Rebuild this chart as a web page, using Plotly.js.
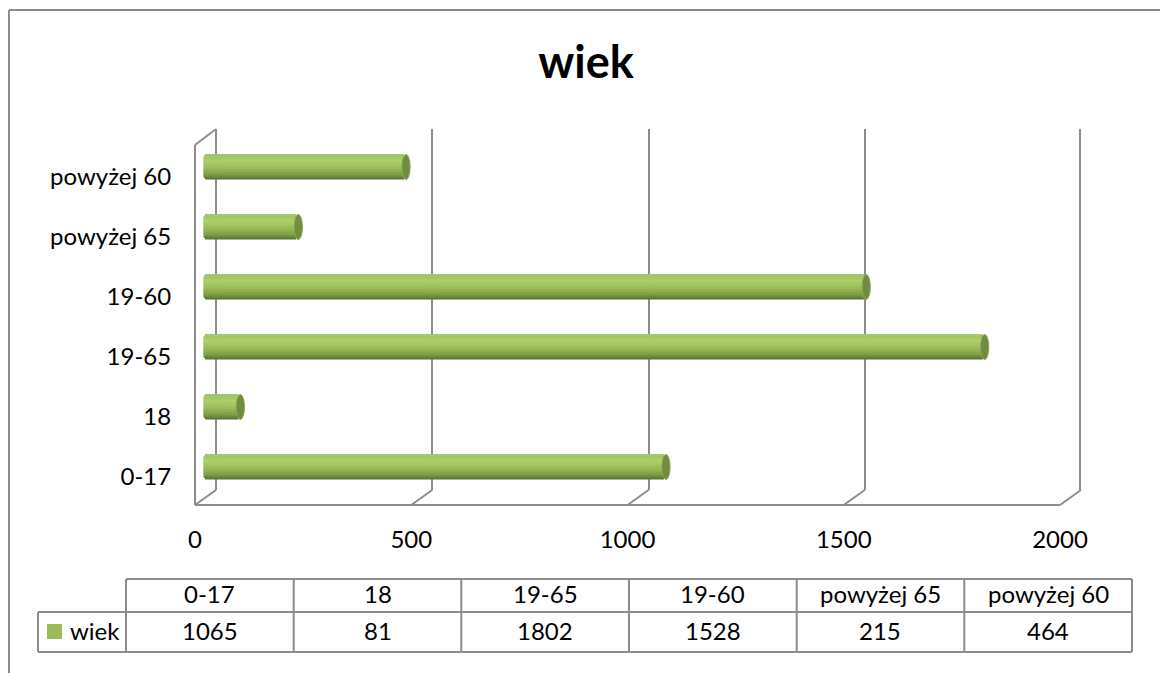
<!DOCTYPE html>
<html><head><meta charset="utf-8">
<script src="https://cdn.plot.ly/plotly-3.0.1.min.js"></script>
<style>html,body{margin:0;padding:0;background:#fff}</style></head>
<body><div id="chart" style="width:1160px;height:673px"></div>
<script>
const categories = ["0-17","18","19-65","19-60","powyżej 65","powyżej 60"];
const values = [1065,81,1802,1528,215,464];
const seriesName = "wiek";
const axisTicks = [0,500,1000,1500,2000];

const W=1160,H=673,FONT="Lato, 'Noto Sans', sans-serif",GRAY="#8c8c8c",TXT="#000",FS=24;
const px=x=>x/W, py=y=>1-y/H;
const PXU=865/2000;

// cylinder shading, bottom to top
const ramp=["#5b7534","#688439","#74923f","#7e9e46","#87a84b","#8eaf50","#94b654","#9abc58","#9fc15b","#a4c65f","#a8ca62","#abcd64","#abcd65","#a8ca64","#a4c563","#a6c56f"];
const inset=[1,.5,.2,.05,0,0,0,0,0,0,0,0,.05,.2,.5,1];
const barH=25/60, dh=barH/ramp.length;

const traces=[];
traces.push({type:'bar',orientation:'h',x:values,y:categories,xaxis:'x',yaxis:'y',opacity:0,showlegend:false,hoverinfo:'skip'});
traces.push({type:'bar',orientation:'h',x:values,y:categories,xaxis:'x2',yaxis:'y2',opacity:0,showlegend:false,hoverinfo:'skip'});
ramp.forEach((c,i)=>{
  const b=(3*inset[i]-1.4)/PXU;
  traces.push({type:'bar',orientation:'h',y:categories,x:values.map(v=>v-b),base:b,
    offset:-barH/2+i*dh,width:dh*1.4,marker:{color:c,line:{width:0}},
    xaxis:'x3',yaxis:'y3',showlegend:false,hoverinfo:'skip'});
});

const line=(x0,y0,x1,y1,layer='below')=>({type:'line',xref:'paper',yref:'paper',x0:px(x0),y0:py(y0),x1:px(x1),y1:py(y1),line:{color:GRAY,width:2},layer});
const shapes=[];
shapes.push(line(9,10,1160,10),line(9,10,9,673));
shapes.push(line(195,505,1060,505),line(195,145,195,505),line(195,145,216,129));
shapes.push(line(1080,129,1080,490));
axisTicks.forEach(t=>{const f=195+t*PXU;shapes.push(line(f,505,f+21,490));});
values.forEach((v,i)=>{
  shapes.push({type:'circle',xref:'x3',yref:'y3',x0:v-5,x1:v+14,y0:i-barH/2,y1:i+barH/2,
    fillcolor:'#6f8c40',line:{color:'#8ba752',width:1},layer:'above'});
});
const colX=[126,293.7,461.3,629,796.7,964.3,1132];
const tTop=579,tMid=612,tBot=652;
shapes.push(line(126,tTop,1132,tTop),line(38,tMid,1132,tMid),line(38,tBot,1132,tBot),line(38,tMid,38,tBot));
colX.forEach(x=>shapes.push(line(x,tTop,x,tBot)));
shapes.push({type:'rect',xref:'paper',yref:'paper',x0:px(47),x1:px(62),y0:py(624),y1:py(639),fillcolor:'#9bbb59',line:{width:0}});

const ann=(x,y,text,anchor='center')=>({xref:'paper',yref:'paper',x:px(x),y:py(y),text,showarrow:false,xanchor:anchor,yanchor:'middle',font:{family:FONT,size:FS,color:TXT}});
const annotations=[];
categories.forEach((c,i)=>{
  const cx=(colX[i]+colX[i+1])/2;
  annotations.push(ann(cx,593.5,c),ann(cx,630.5,String(values[i])));
});
annotations.push(ann(68,630.5,seriesName,'left'));

const hidden={showgrid:false,zeroline:false,showline:false,showticklabels:false,ticks:''};
const layout={
  width:W,height:H,margin:{l:0,r:0,t:0,b:0},paper_bgcolor:'#fff',plot_bgcolor:'rgba(0,0,0,0)',
  barmode:'overlay',showlegend:false,
  title:{text:'<b>'+seriesName+'</b>',x:px(586),xanchor:'center',y:py(62),yanchor:'middle',font:{family:FONT,size:45,color:TXT}},
  xaxis:{...hidden,domain:[px(215),px(1082)],range:[-2,2002],tickvals:axisTicks,showgrid:true,gridcolor:GRAY,gridwidth:2,zeroline:true,zerolinecolor:GRAY,zerolinewidth:2,anchor:'y'},
  yaxis:{...hidden,domain:[py(490),py(129)],type:'category',categoryorder:'array',categoryarray:categories,anchor:'x'},
  xaxis2:{...hidden,anchor:'y2',domain:[px(195),px(1060)],range:[0,2000],tickvals:axisTicks,showticklabels:true,ticks:'outside',ticklen:11,tickcolor:'rgba(0,0,0,0)',tickfont:{family:FONT,size:FS,color:TXT}},
  yaxis2:{...hidden,anchor:'x2',domain:[py(507),py(147)],type:'category',categoryorder:'array',categoryarray:categories,showticklabels:true,ticks:'outside',ticklen:18,tickcolor:'rgba(0,0,0,0)',tickfont:{family:FONT,size:FS,color:TXT}},
  xaxis3:{...hidden,anchor:'y3',domain:[px(203.4),px(1068.4)],range:[0,2000]},
  yaxis3:{...hidden,anchor:'x3',domain:[py(497),py(137)],type:'category',categoryorder:'array',categoryarray:categories},
  shapes,annotations
};
Plotly.newPlot('chart',traces,layout,{displayModeBar:false,staticPlot:true});
</script></body></html>
